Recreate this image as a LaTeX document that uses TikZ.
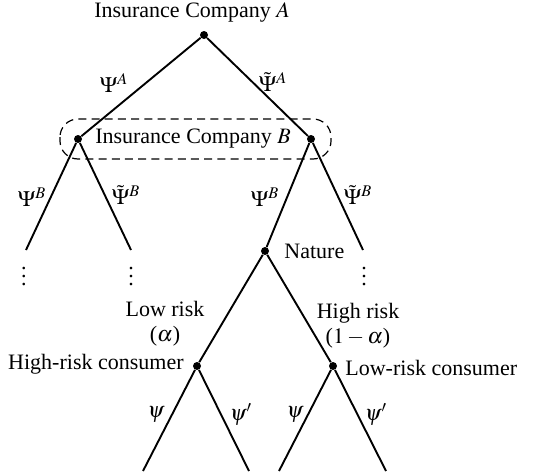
\documentclass[tikz,border=0pt]{standalone}
\usepackage{mathptmx}
\usepackage[no-math]{fontspec}
\setmainfont{Liberation Serif}
\usepackage{tikz}
\usetikzlibrary{positioning}

\begin{document}
\begin{tikzpicture}[
        x=0.5pt, y=-0.5pt,
        every node/.style={font=\fontsize{11}{12.5}\selectfont},
        dot/.style={circle, fill, inner sep=0pt, minimum size=4pt},
        branch/.style={line width=0.95pt},
        infoset/.style={dashed, dash pattern=on 4pt off 2.6pt, line width=0.6pt, rounded corners=9pt},
        lbl/.style={inner sep=0pt}
    ]
        \useasboundingbox (0,0) rectangle (556,471);

        % decision nodes
        \node[dot] (compA) at (204,35) {};
        \node[dot] (compBl) at (78,139) {};
        \node[dot] (compBr) at (311,139) {};
        \node[dot] (nature) at (265,251) {};
        \node[dot] (highc) at (197,366) {};
        \node[dot] (lowc) at (333,366) {};

        % ends of the branches
        \coordinate (endBl1) at (26,250);
        \coordinate (endBl2) at (131,250);
        \coordinate (endBr2) at (363,250);
        \coordinate (endH1) at (143,471);
        \coordinate (endH2) at (249,471);
        \coordinate (endL1) at (279,471);
        \coordinate (endL2) at (386,471);

        % node labels
        \node (labA) at (192,12) {Insurance Company $A$};
        \node (labB) at (193,139) {Insurance Company $B$};
        \node[anchor=west, inner sep=0pt] (labN) at (284,251) {Nature};
        \node[anchor=east, inner sep=0pt] (labH) at (184,364) {High-risk consumer};
        \node[anchor=west, inner sep=0pt] (labL) at (345,368) {Low-risk consumer};

        \draw[branch] (compA) -- (compBl);
        \draw[branch] (compA) -- (compBr);
        \draw[branch] (compBl) -- (endBl1);
        \draw[branch] (compBl) -- (endBl2);
        \draw[branch] (compBr) -- (nature);
        \draw[branch] (compBr) -- (endBr2);
        \draw[branch] (nature) -- (highc);
        \draw[branch] (nature) -- (lowc);
        \draw[branch] (highc) -- (endH1);
        \draw[branch] (highc) -- (endH2);
        \draw[branch] (lowc) -- (endL1);
        \draw[branch] (lowc) -- (endL2);

        % information set of B
        \draw[infoset] (60,119) rectangle (331,159);

        % branch labels
        \node[lbl] (psiA) at (114,83) {$\Psi^A$};
        \node[lbl] (tpsiA) at (273,82) {$\tilde{\Psi}^A$};
        \node[lbl] (psiBl) at (32,197) {$\Psi^B$};
        \node[lbl] (tpsiBl) at (126,195) {$\tilde{\Psi}^B$};
        \node[lbl] (psiBr) at (265,197) {$\Psi^B$};
        \node[lbl] (tpsiBr) at (358,195) {$\tilde{\Psi}^B$};
        \node[align=center, inner sep=0pt] (lowrisk) at (165,324) {Low risk\\($\alpha$)};
        \node[align=center, inner sep=0pt] (highrisk) at (358,326) {High risk\\($1-\alpha$)};
        \node[lbl] (psiH) at (156,415) {$\psi$};
        \node[lbl] (psipH) at (241,415) {$\psi'$};
        \node[lbl] (psiL) at (295,415) {$\psi$};
        \node[lbl] (psipL) at (376,415) {$\psi'$};

        % continuation dots
        \node (moreBl1) at (24,271) {$\vdots$};
        \node (moreBl2) at (131,271) {$\vdots$};
        \node (moreBr2) at (364,271) {$\vdots$};
    \end{tikzpicture}
\end{document}
